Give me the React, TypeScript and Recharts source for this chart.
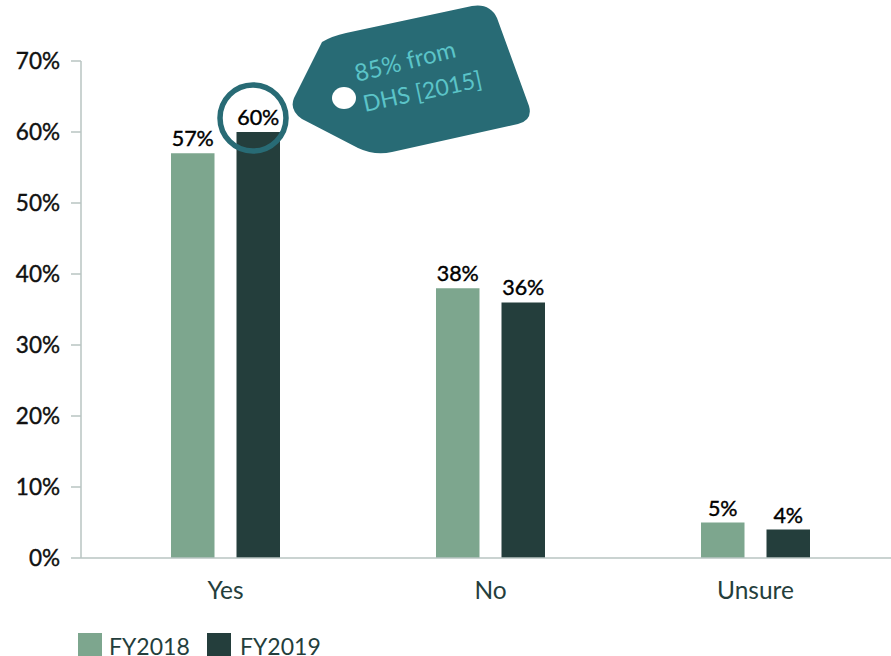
import React from "react";
import { BarChart, Bar, XAxis, YAxis, LabelList } from "recharts";

const categories = ["Yes", "No", "Unsure"];
const fy2018 = [57, 38, 5];
const fy2019 = [60, 36, 4];
const yTicks = [0, 10, 20, 30, 40, 50, 60, 70];

const rows = categories.map((name, i) => ({ name, FY2018: fy2018[i], FY2019: fy2019[i] }));

const FONT = "Lato, 'Noto Sans', sans-serif";
const LIGHT = "#7da68e";
const DARK = "#243e3c";
const TEAL = "#286b75";
const AXIS = "#b9c5c2";

const percent = (v: number) => `${v}%`;

export default function App() {
  return (
    <div style={{ position: "absolute", left: 0, top: 0, width: 891, height: 656, overflow: "hidden", background: "#fff", fontFamily: FONT }}>
      <BarChart
        width={891}
        height={630}
        data={rows}
        margin={{ top: 61, right: 0, bottom: 42, left: 0 }}
        barSize={43.5}
        barGap={22}
      >
        <XAxis
          dataKey="name"
          padding={{ left: 12, right: 3 }}
          tickLine={false}
          axisLine={{ stroke: AXIS, strokeWidth: 1.5 }}
          tick={{ fill: DARK, fontSize: 24.5, fontFamily: FONT }}
          tickMargin={18}
        />
        <YAxis
          width={81}
          domain={[0, 70]}
          ticks={yTicks}
          interval={0}
          tickFormatter={percent}
          axisLine={{ stroke: AXIS, strokeWidth: 1.5 }}
          tickLine={{ stroke: AXIS, strokeWidth: 1.5 }}
          tickSize={10}
          tick={{ fill: "#111", stroke: "#111", strokeWidth: 0.4, fontSize: 22.5, fontFamily: FONT, dx: -9 }}
        />
        <Bar dataKey="FY2018" fill={LIGHT} isAnimationActive={false}>
          <LabelList dataKey="FY2018" position="top" offset={7} formatter={percent} fill="#000" stroke="#000" strokeWidth={0.4} fontSize={21.5} fontFamily={FONT} />
        </Bar>
        <Bar dataKey="FY2019" fill={DARK} isAnimationActive={false}>
          <LabelList dataKey="FY2019" position="top" offset={7} formatter={percent} fill="#000" stroke="#000" strokeWidth={0.4} fontSize={21.5} fontFamily={FONT} />
        </Bar>
      </BarChart>

      {/* legend row, running off the bottom edge of the page */}
      <div style={{ position: "absolute", left: 78, top: 633, display: "flex", alignItems: "flex-start", fontSize: 23, color: DARK, lineHeight: "27px" }}>
        <span style={{ width: 24, height: 24, background: LIGHT, marginRight: 7 }} />
        <span style={{ width: 98 }}>FY2018</span>
        <span style={{ width: 24, height: 24, background: DARK, marginRight: 9 }} />
        <span>FY2019</span>
      </div>

      {/* callout: ring around the 60% bar and a price tag beside it */}
      <svg width={891} height={656} style={{ position: "absolute", left: 0, top: 0, pointerEvents: "none" }}>
        <circle cx={253} cy={118} r={33} fill="none" stroke={TEAL} strokeWidth={5.5} />
        <path
          d="M 322 42 Q 332 36 346 33 L 472 6 Q 490 3 497 18 L 529 106 Q 533 120 518 124 L 392 152 Q 375 156 358 148 L 302 119 Q 289 110 294 98 Z"
          fill={TEAL}
        />
        <ellipse cx={344} cy={98} rx={12} ry={11} fill="#fff" />
        <g fontFamily="Lato, 'Open Sans', sans-serif" fill="#5bc4c8">
          <text fontSize={24} transform="translate(357 82) rotate(-14)">85% from</text>
          <text fontSize={23} transform="translate(365 112) rotate(-12)">DHS [2015]</text>
        </g>
      </svg>
    </div>
  );
}
